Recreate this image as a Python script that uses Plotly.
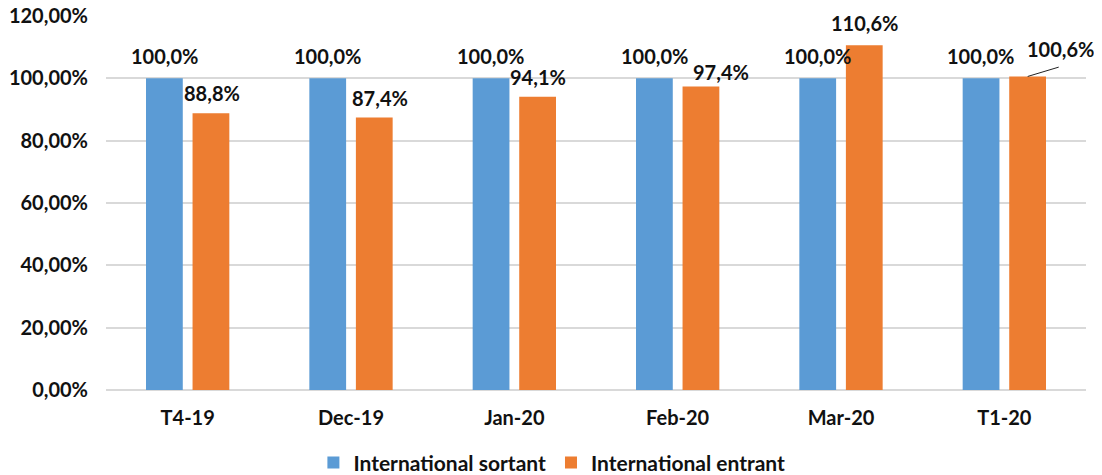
import plotly.graph_objects as go

categories = ["T4-19", "Dec-19", "Jan-20", "Feb-20", "Mar-20", "T1-20"]
sortant = [100.0, 100.0, 100.0, 100.0, 100.0, 100.0]
entrant = [88.8, 87.4, 94.1, 97.4, 110.6, 100.6]
y_ticks = [0, 20, 40, 60, 80, 100, 120]
y_tick_labels = ["0,00%", "20,00%", "40,00%", "60,00%", "80,00%", "100,00%", "120,00%"]

# label placement tweaks (pixels) for the orange labels, as in the source chart
entrant_label_dx = [1, 6, 0, 20, 0, 33]
entrant_label_dy = [20, 20, 20, 14, 22, 27]

BLUE = "#5B9BD5"
ORANGE = "#ED7D31"
FONT = "Lato"
TXT = "#111111"

def fr(v):
    return f"{v:.1f}".replace(".", ",") + "%"

fig = go.Figure()
fig.add_trace(go.Bar(x=categories, y=sortant, name="International sortant",
                     marker=dict(color=BLUE, line=dict(width=0))))
fig.add_trace(go.Bar(x=categories, y=entrant, name="International entrant",
                     marker=dict(color=ORANGE, line=dict(width=0))))

lblfont = dict(family=FONT, size=20, color=TXT, weight="bold")
off = 0.143
for i, (s, e) in enumerate(zip(sortant, entrant)):
    fig.add_annotation(x=i - off, y=s, text=fr(s), showarrow=False, yshift=22,
                       font=lblfont)
    fig.add_annotation(x=i + off, y=e, text=fr(e), showarrow=False,
                       xshift=entrant_label_dx[i], yshift=entrant_label_dy[i],
                       font=lblfont)

# leader line for the moved last label
last = len(categories) - 1
fig.add_shape(type="line", xref="x", yref="y",
              x0=last + off, y0=entrant[last],
              x1=last + off + 0.19, y1=entrant[last] + 3.0,
              line=dict(color="#222222", width=1))

fig.update_layout(
    width=1094, height=467,
    margin=dict(l=98, r=16, t=8, b=85, autoexpand=False),
    paper_bgcolor="white", plot_bgcolor="white",
    barmode="group", bargap=0.43, bargroupgap=0.21,
    font=dict(family=FONT, size=18, color=TXT, weight="bold"),
    showlegend=True,
    legend=dict(orientation="h", x=0.455, xanchor="center", y=-0.195, yanchor="middle",
                font=dict(family=FONT, size=21, color=TXT, weight="bold"),
                traceorder="normal", itemwidth=30),
)
fig.update_xaxes(type="category", range=[-0.5, len(categories) - 0.5],
                 showgrid=False, showline=False, zeroline=False,
                 automargin=False,
                 tickfont=dict(family=FONT, size=20, color=TXT, weight="bold"),
                 ticklabelstandoff=14)
fig.update_yaxes(range=[0, 120], tickvals=y_ticks, ticktext=y_tick_labels,
                 automargin=False, ticklabeloverflow="allow",
                 showgrid=True, gridcolor="#D9D9D9", gridwidth=1.5,
                 zeroline=True, zerolinecolor="#D9D9D9", zerolinewidth=1.5,
                 showline=False,
                 tickfont=dict(family=FONT, size=20, color=TXT, weight="bold"),
                 ticklabelstandoff=17)

fig.write_html("out.html")
